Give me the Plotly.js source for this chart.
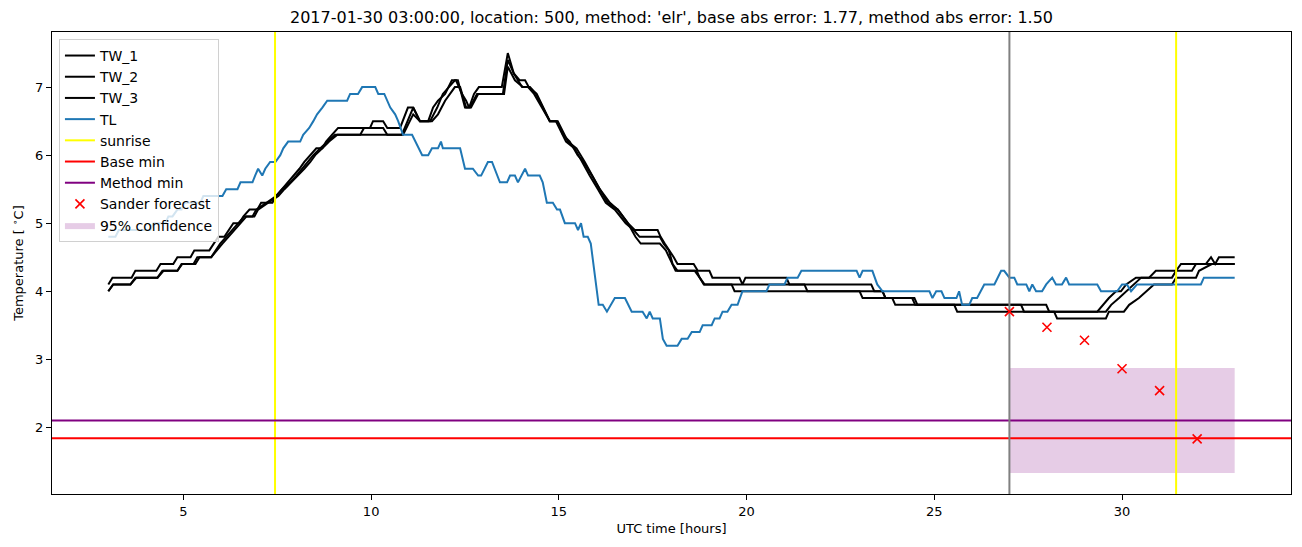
<!DOCTYPE html>
<html>
<head>
<meta charset="utf-8">
<script src="https://cdn.plot.ly/plotly-3.0.1.min.js"></script>
<style>html,body{margin:0;padding:0;background:#fff;}#chart{width:1302px;height:547px;}</style>
</head>
<body>
<div id="chart"></div>
<script>
// ---- data ----
var tl_t = [3.00,3.19,3.28,4.12,4.20,4.52,4.60,4.71,4.84,4.95,5.03,5.45,5.53,6.04,6.14,6.44,6.52,6.84,6.91,6.99,7.10,7.18,7.31,7.45,7.58,7.66,7.79,8.11,8.19,8.35,8.46,8.56,8.70,8.83,9.36,9.44,9.65,9.76,10.11,10.19,10.35,10.43,10.51,10.64,10.72,10.85,11.09,11.36,11.52,11.62,11.78,11.86,11.91,12.37,12.50,12.71,12.85,12.93,13.11,13.22,13.43,13.62,13.70,13.83,13.91,14.10,14.18,14.49,14.57,14.68,14.84,14.95,15.03,15.16,15.43,15.51,15.59,15.66,15.77,15.85,16.06,16.17,16.28,16.49,16.76,16.94,17.23,17.34,17.42,17.50,17.69,17.77,17.87,18.16,18.27,18.43,18.54,18.75,18.83,19.07,19.15,19.28,19.36,19.49,19.60,19.76,19.89,20.53,20.61,21.01,21.09,21.36,21.46,22.93,23.01,23.09,23.35,23.48,23.62,24.87,24.95,25.05,25.19,25.27,25.59,25.66,25.74,25.93,26.01,26.14,26.33,26.60,26.78,26.86,27.00,27.13,27.21,27.45,27.53,27.61,27.71,27.87,27.98,28.14,28.24,28.40,28.51,28.59,29.34,29.44,29.87,30.00,30.13,30.24,30.40,32.10,32.18,33.00];
var tl_v = [4.8,4.8,4.9,4.9,5.0,5.0,5.1,5.1,5.2,5.2,5.3,5.3,5.4,5.4,5.5,5.5,5.6,5.6,5.7,5.8,5.7,5.8,5.9,5.9,6.0,6.1,6.2,6.2,6.3,6.4,6.5,6.6,6.7,6.8,6.8,6.9,6.9,7.0,7.0,6.9,6.9,6.8,6.7,6.6,6.5,6.3,6.3,6.0,6.0,6.1,6.1,6.2,6.1,6.1,5.8,5.8,5.7,5.7,5.9,5.9,5.6,5.6,5.7,5.7,5.6,5.8,5.7,5.7,5.6,5.3,5.3,5.2,5.2,5.0,5.0,4.9,5.0,4.8,4.8,4.7,3.8,3.8,3.7,3.9,3.9,3.7,3.7,3.6,3.7,3.6,3.6,3.3,3.2,3.2,3.3,3.3,3.4,3.4,3.5,3.5,3.6,3.6,3.7,3.7,3.8,3.8,4.0,4.0,4.1,4.1,4.2,4.2,4.3,4.3,4.2,4.3,4.3,4.1,4.0,4.0,3.9,4.0,4.0,3.9,3.9,4.0,3.8,3.8,3.9,3.9,4.1,4.1,4.3,4.3,4.2,4.2,4.1,4.1,4.0,4.1,4.0,4.0,4.1,4.2,4.1,4.1,4.2,4.1,4.1,4.0,4.0,4.1,4.1,4.0,4.1,4.1,4.2,4.2];

var tw1_t = [3.00,3.11,3.62,3.72,4.28,4.39,4.73,4.84,5.19,5.29,5.69,5.80,5.93,6.09,6.20,6.33,6.49,6.60,6.76,6.97,7.07,7.37,7.47,7.63,7.79,7.93,8.09,8.22,8.38,8.54,8.70,8.80,8.96,9.12,9.97,10.05,10.32,10.43,10.77,10.98,11.12,11.30,11.52,11.65,11.78,11.97,12.15,12.26,12.42,12.53,12.61,12.74,12.87,13.48,13.64,13.80,13.96,14.10,14.20,14.41,14.76,14.95,15.11,15.29,15.50,15.66,15.88,16.09,16.36,16.57,16.84,17.02,17.63,17.71,17.82,17.95,18.06,18.16,18.59,18.70,19.01,19.09,19.81,19.89,19.97,21.06,21.14,23.32,23.40,23.62,23.70,24.41,24.49,27.31,27.39,29.34,29.49,29.65,29.84,29.97,30.11,30.37,30.72,30.90,31.44,31.57,32.23,32.37,32.48,32.58,33.00];
var tw1_v = [4.1,4.2,4.2,4.3,4.3,4.4,4.4,4.5,4.5,4.6,4.6,4.7,4.8,4.8,4.9,5.0,5.0,5.1,5.2,5.2,5.3,5.3,5.4,5.5,5.6,5.7,5.8,5.9,6.0,6.1,6.1,6.2,6.3,6.4,6.4,6.5,6.5,6.4,6.4,6.7,6.7,6.5,6.5,6.7,6.8,6.9,7.1,7.1,6.9,6.8,6.7,6.9,7.0,7.0,7.5,7.2,7.1,7.1,7.0,6.9,6.5,6.5,6.3,6.2,6.0,5.9,5.7,5.5,5.3,5.2,5.0,4.9,4.9,4.8,4.7,4.6,4.5,4.4,4.4,4.3,4.3,4.2,4.2,4.1,4.2,4.2,4.1,4.1,4.0,4.0,3.9,3.9,3.8,3.8,3.7,3.7,3.8,3.9,4.0,4.0,4.1,4.2,4.2,4.3,4.3,4.4,4.4,4.5,4.4,4.5,4.5];

var tw2_t = [3.00,3.13,3.59,3.72,4.31,4.44,4.84,4.95,5.27,5.37,5.74,5.85,5.98,6.14,6.30,6.46,6.62,6.84,6.94,7.21,7.47,7.63,7.85,8.01,8.16,8.32,8.46,8.64,8.83,9.04,9.71,9.81,10.32,10.43,10.82,11.12,11.30,11.57,11.76,11.91,12.23,12.31,12.50,12.63,12.82,13.51,13.64,13.80,14.02,14.18,14.34,14.76,14.92,15.19,15.42,15.61,15.82,16.04,16.25,16.49,16.78,16.99,17.15,17.69,17.79,17.93,18.03,18.16,18.67,18.75,18.86,21.54,21.62,23.01,23.09,23.88,23.96,25.53,25.61,29.57,29.71,29.92,30.11,30.32,30.51,31.33,31.44,31.86,31.97,33.00];
var tw2_v = [4.0,4.1,4.1,4.2,4.2,4.3,4.3,4.4,4.4,4.5,4.5,4.6,4.7,4.8,4.9,5.0,5.1,5.1,5.2,5.3,5.4,5.5,5.6,5.7,5.8,5.9,6.0,6.1,6.2,6.3,6.3,6.4,6.4,6.3,6.3,6.7,6.5,6.5,6.7,6.9,7.1,7.1,6.7,6.7,6.9,6.9,7.4,7.2,7.0,7.0,6.9,6.5,6.5,6.2,6.1,5.9,5.7,5.5,5.3,5.2,5.0,4.9,4.8,4.8,4.7,4.6,4.4,4.3,4.3,4.2,4.1,4.1,4.0,4.0,3.9,3.9,3.8,3.8,3.7,3.7,3.8,3.9,4.0,4.1,4.2,4.2,4.3,4.3,4.4,4.4];

var tw3_t = [3.00,3.13,3.59,3.75,4.31,4.47,4.84,4.97,5.32,5.43,5.74,5.88,6.04,6.20,6.36,6.52,6.68,6.89,6.99,7.26,7.53,7.69,7.87,8.06,8.22,8.38,8.51,8.70,8.88,9.10,10.85,11.12,11.30,11.62,11.78,11.97,12.23,12.37,12.53,12.66,12.85,13.54,13.64,13.83,14.04,14.23,14.39,14.76,14.97,15.24,15.47,15.69,15.88,16.09,16.30,16.57,16.84,17.04,17.18,17.69,17.85,18.01,18.11,18.62,18.75,18.88,19.60,19.68,23.62,23.70,24.47,24.55,27.98,28.06,28.19,28.27,29.57,29.65,30.05,30.19,30.45,30.64,30.85,31.33,31.44,31.97,32.05,32.39,33.00];
var tw3_v = [4.0,4.1,4.1,4.2,4.2,4.3,4.3,4.4,4.4,4.5,4.5,4.6,4.7,4.8,4.9,5.0,5.1,5.1,5.2,5.3,5.4,5.5,5.6,5.7,5.8,5.9,6.0,6.1,6.2,6.3,6.3,6.6,6.5,6.5,6.6,6.8,7.0,7.0,6.7,6.7,6.9,6.9,7.3,7.1,7.0,7.0,6.9,6.5,6.5,6.2,6.1,5.9,5.7,5.5,5.3,5.2,5.0,4.8,4.7,4.7,4.6,4.4,4.3,4.3,4.2,4.1,4.1,4.0,4.0,3.9,3.9,3.8,3.8,3.7,3.7,3.6,3.6,3.7,3.7,3.8,3.9,4.0,4.1,4.1,4.2,4.2,4.3,4.4,4.4];

var fc_t = [27, 28, 29, 30, 31, 32];
var fc_v = [3.70, 3.47, 3.28, 2.86, 2.54, 1.83];
var ci_t = [27, 33];
var ci_lo = 1.33;
var ci_hi = 2.87;
var base_min = 1.84;
var method_min = 2.10;
var sunrise_t = [7.44, 31.44];
var now_t = 27;
var x_range = [1.5, 34.5];
var y_range = [1.02, 7.81];
var x_ticks = [5, 10, 15, 20, 25, 30];
var y_ticks = [2, 3, 4, 5, 6, 7];
var title_text = "2017-01-30 03:00:00, location: 500, method: 'elr', base abs error: 1.77, method abs error: 1.50";

// ---- traces ----
var traces = [];
traces.push({
  x: [ci_t[0], ci_t[1], ci_t[1], ci_t[0], ci_t[0]],
  y: [ci_lo, ci_lo, ci_hi, ci_hi, ci_lo],
  fill: 'toself', fillcolor: 'rgba(128,0,128,0.2)', mode: 'lines',
  line: {width: 0, color: 'rgba(128,0,128,0.2)'},
  name: '95% confidence', legendrank: 9, hoverinfo: 'skip'
});
var tws = [[tw1_t, tw1_v, 'TW_1'], [tw2_t, tw2_v, 'TW_2'], [tw3_t, tw3_v, 'TW_3']];
tws.forEach(function (s, i) {
  traces.push({x: s[0], y: s[1], mode: 'lines', name: s[2], legendrank: i + 1,
    line: {color: 'black', width: 2}});
});
traces.push({x: tl_t, y: tl_v, mode: 'lines', name: 'TL', legendrank: 4,
  line: {color: '#1f77b4', width: 2}});
traces.push({
  x: [sunrise_t[0], sunrise_t[0], null, sunrise_t[1], sunrise_t[1]],
  y: [y_range[0], y_range[1], null, y_range[0], y_range[1]],
  mode: 'lines', name: 'sunrise', legendrank: 5, line: {color: 'yellow', width: 2}
});
traces.push({x: x_range, y: [base_min, base_min], mode: 'lines', name: 'Base min',
  legendrank: 6, line: {color: 'red', width: 2}});
traces.push({x: x_range, y: [method_min, method_min], mode: 'lines', name: 'Method min',
  legendrank: 7, line: {color: 'purple', width: 2}});
traces.push({x: [now_t, now_t], y: y_range, mode: 'lines', showlegend: false,
  line: {color: 'grey', width: 2}});
traces.push({x: fc_t, y: fc_v, mode: 'markers', name: 'Sander forecast', legendrank: 8,
  marker: {symbol: 'x-thin', size: 9, color: 'red', line: {color: 'red', width: 1.6}}});

var axisCommon = {
  showgrid: false, zeroline: false, showline: true, mirror: true,
  linecolor: 'black', linewidth: 1, ticks: 'outside', ticklen: 5, tickwidth: 1,
  tickcolor: 'black', tickfont: {family: 'DejaVu Sans', size: 13, color: 'black'}
};
var layout = {
  width: 1302, height: 547,
  margin: {l: 52, r: 11, t: 32, b: 53},
  paper_bgcolor: 'white', plot_bgcolor: 'white',
  font: {family: 'DejaVu Sans', color: 'black'},
  title: {text: title_text, font: {family: 'DejaVu Sans', size: 16, color: 'black'},
    x: 0.5, xref: 'paper', xanchor: 'center', y: 0.968, yanchor: 'middle'},
  xaxis: Object.assign({}, axisCommon, {range: x_range, tickvals: x_ticks,
    title: {text: 'UTC time [hours]', font: {family: 'DejaVu Sans', size: 13}, standoff: 6}}),
  yaxis: Object.assign({}, axisCommon, {range: y_range, tickvals: y_ticks,
    title: {text: 'Temperature [ <sup>∘</sup>C]', font: {family: 'DejaVu Sans', size: 13}, standoff: 8}}),
  legend: {x: 0.0056, y: 0.985, xanchor: 'left', yanchor: 'top',
    bgcolor: 'rgba(255,255,255,0.8)', bordercolor: '#d0d0d0', borderwidth: 1,
    font: {family: 'DejaVu Sans', size: 14, color: 'black'}, traceorder: 'normal'},
  showlegend: true
};
Plotly.newPlot('chart', traces, layout, {displayModeBar: false, staticPlot: true});
</script>
</body>
</html>
